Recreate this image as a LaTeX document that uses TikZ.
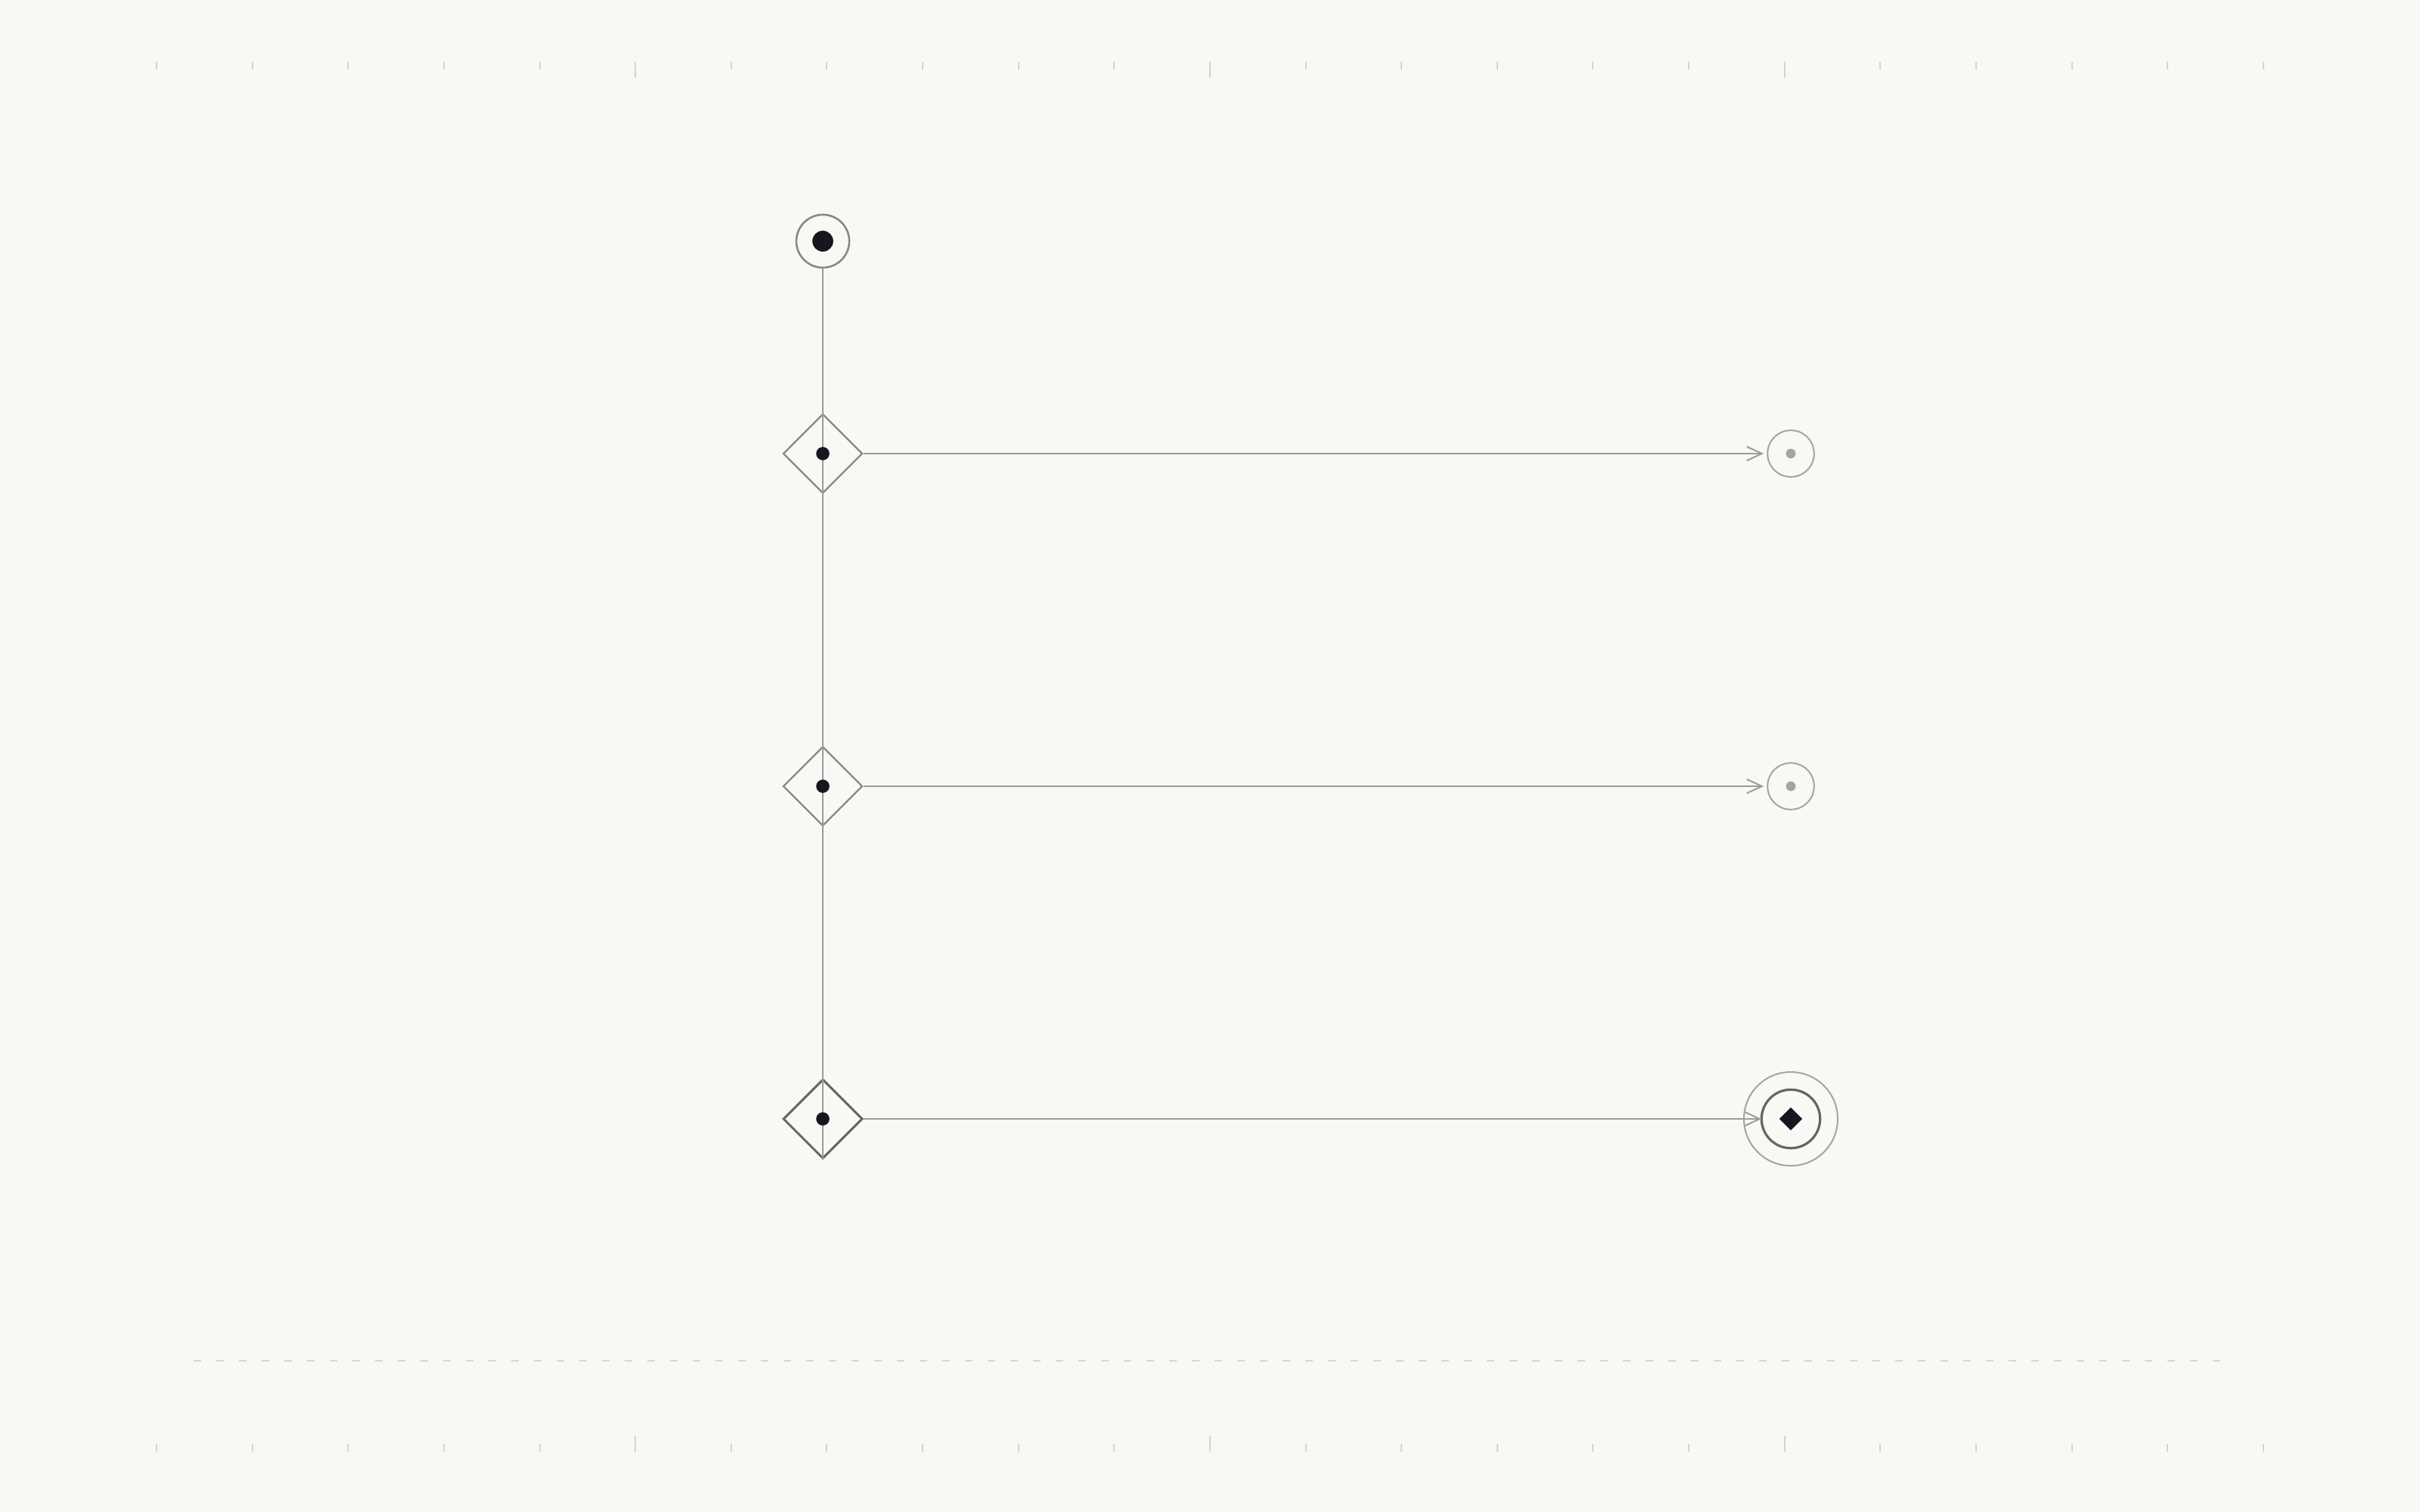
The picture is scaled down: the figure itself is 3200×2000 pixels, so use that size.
\documentclass[tikz,border=0pt]{standalone}
\usetikzlibrary{shapes.geometric,arrows.meta}
\definecolor{bgc}{HTML}{F9F8F4}
\definecolor{tickc}{HTML}{D5D3CE}
\definecolor{dashc}{HTML}{D8D6D1}
\definecolor{linec}{HTML}{9C9C9C}
\definecolor{nodec}{HTML}{888888}
\definecolor{darkc}{HTML}{656565}
\definecolor{dotc}{HTML}{16161E}
\definecolor{softc}{HTML}{A4A4A4}
\tikzset{
  startnode/.style={circle,draw=nodec,line width=0.65pt,minimum size=17.5pt,inner sep=0pt},
  gatenode/.style={diamond,draw=nodec,line width=0.6pt,minimum width=26.25pt,minimum height=26.25pt,inner sep=0pt},
  gatelast/.style={gatenode,draw=darkc,line width=0.75pt},
  endsmall/.style={circle,draw=softc,line width=0.5pt,minimum size=15.4pt,inner sep=0pt},
  endfinal/.style={circle,draw=darkc,line width=0.8pt,minimum size=19.35pt,inner sep=0pt},
  flow/.style={draw=linec,line width=0.5pt},
  flowarrow/.style={flow,-{Straight Barb[length=5pt,width=4.6pt,line width=0.5pt]}},
  tickmark/.style={draw=tickc,line width=0.5pt},
}
\begin{document}
\begin{tikzpicture}[x=0.25pt,y=-0.25pt]
\useasboundingbox (0,0) rectangle (3200,2000);
\fill[bgc] (0,0) rectangle (3200,2000);
% ticks
\foreach \k in {0,...,22}{
  \pgfmathsetmacro{\xx}{207+126.63*\k}
  \ifnum\k=5 \def\lng{1}\else\ifnum\k=11 \def\lng{1}\else\ifnum\k=17 \def\lng{1}\else\def\lng{0}\fi\fi\fi
  \ifnum\lng=1
    \draw[tickmark] (\xx,82) -- (\xx,103);
    \draw[tickmark] (\xx,1899) -- (\xx,1920);
  \else
    \draw[tickmark] (\xx,82) -- (\xx,92);
    \draw[tickmark] (\xx,1910) -- (\xx,1920);
  \fi
}
% dashed baseline
\draw[draw=dashc,line width=0.5pt,dash pattern=on 2.5pt off 5pt] (256,1800) -- (2936,1800);
% nodes
\node[startnode] (start) at (1088,319) {};
\node[gatenode] (d1) at (1088,600) {};
\node[gatenode] (d2) at (1088,1040) {};
\node[gatelast] (d3) at (1088,1480) {};
\node[endsmall] (t1) at (2368,600) {};
\node[endsmall] (t2) at (2368,1040) {};
\node[endfinal] (t3) at (2368,1480) {};
% connectors
\draw[flow] (start.south) -- (d3.south);
\draw[flowarrow,shorten >=1.0pt] (d1.east) -- (t1.west);
\draw[flowarrow,shorten >=1.0pt] (d2.east) -- (t2.west);
\draw[flowarrow,shorten >=-0.4pt] (d3.east) -- (t3.west);
% decorations
\fill[dotc] (start) circle[radius=3.45pt];
\fill[dotc] (d1) circle[radius=2.2pt];
\fill[dotc] (d2) circle[radius=2.2pt];
\fill[dotc] (d3) circle[radius=2.2pt];
\fill[softc] (t1) circle[radius=1.6pt];
\fill[softc] (t2) circle[radius=1.6pt];
\draw[draw=softc,line width=0.5pt] (t3) circle[radius=15.5pt];
\node[diamond,fill=dotc,inner sep=0pt,minimum width=7.75pt,minimum height=7.75pt] (t3core) at (t3) {};
\end{tikzpicture}
\end{document}
